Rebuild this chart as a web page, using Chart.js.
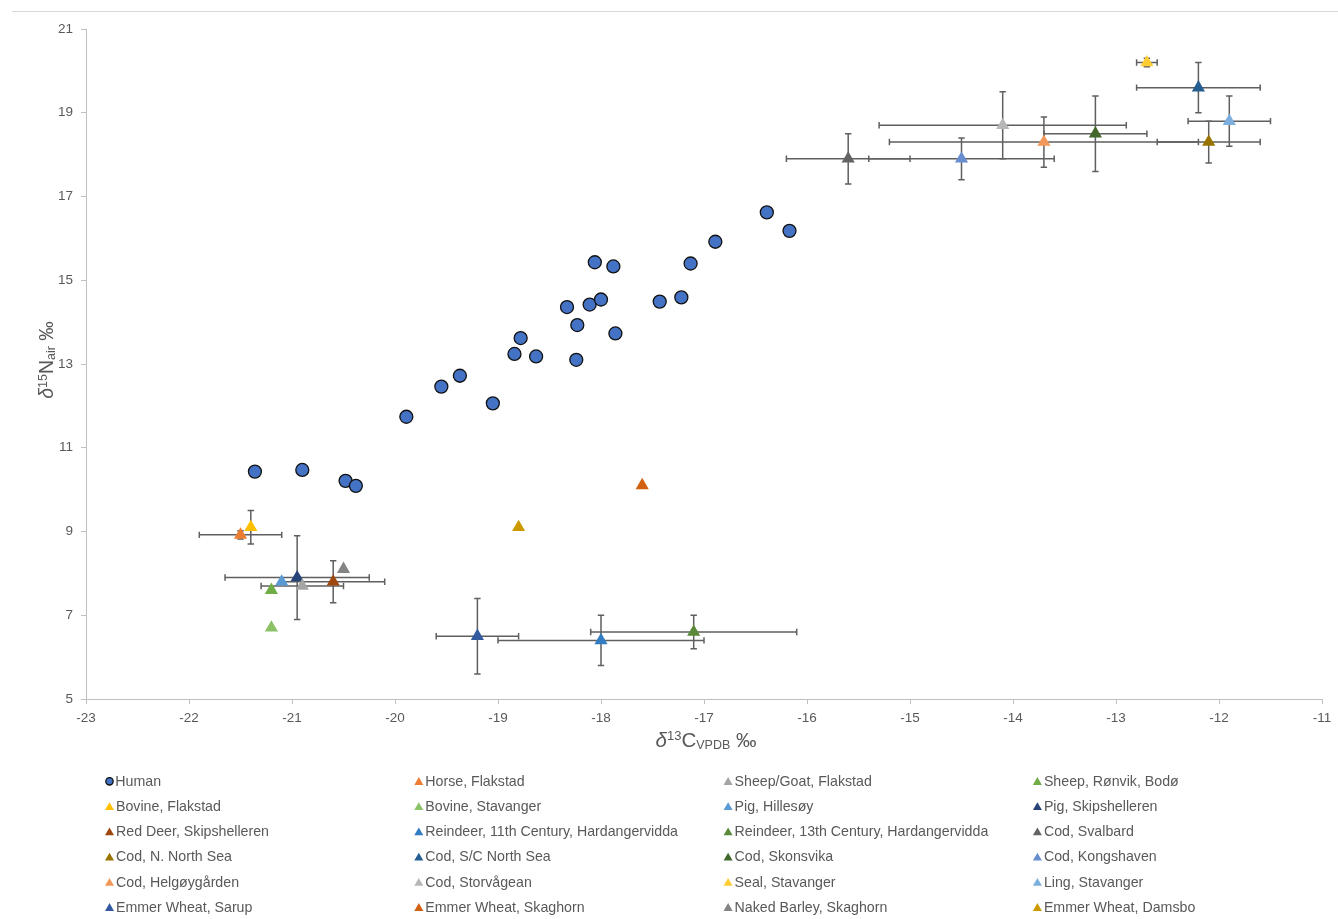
<!DOCTYPE html>
<html>
<head>
<meta charset="utf-8">
<script src="https://cdn.jsdelivr.net/npm/chart.js@4.4.1/dist/chart.umd.min.js"></script>
<style>
  html, body { margin: 0; padding: 0; background: #ffffff; }
  #wrap { position: relative; width: 1338px; height: 919px; }
  canvas { display: block; }
</style>
</head>
<body>
<div id="wrap"><canvas id="chart" width="1338" height="919"></canvas></div>
<script>
// ---------- DATA ----------
const seriesNames = [
  "Human", "Horse, Flakstad", "Sheep/Goat, Flakstad", "Sheep, Rønvik, Bodø",
  "Bovine, Flakstad", "Bovine, Stavanger", "Pig, Hillesøy", "Pig, Skipshelleren",
  "Red Deer, Skipshelleren", "Reindeer, 11th Century, Hardangervidda", "Reindeer, 13th Century, Hardangervidda", "Cod, Svalbard",
  "Cod, N. North Sea", "Cod, S/C North Sea", "Cod, Skonsvika", "Cod, Kongshaven",
  "Cod, Helgøygården", "Cod, Storvågean", "Seal, Stavanger", "Ling, Stavanger",
  "Emmer Wheat, Sarup", "Emmer Wheat, Skaghorn", "Naked Barley, Skaghorn", "Emmer Wheat, Damsbo"
];
const seriesColors = [
  "#4472C4", "#ED7D31", "#A5A5A5", "#70AD47",
  "#FFC000", "#8CC168", "#5B9BD5", "#264478",
  "#9E480E", "#327DC2", "#5A8A39", "#636363",
  "#997300", "#255E91", "#43682B", "#698ED0",
  "#F1975A", "#B7B7B7", "#FFCD33", "#7CAFDD",
  "#335AA1", "#D26012", "#848484", "#CC9A00"
];

// Human samples
const humanX = [-19.89, -19.55, -19.37, -19.05, -18.84, -18.78, -18.63, -18.33, -18.23, -18.24,
                -18.11, -18.00, -18.06, -17.88, -17.86, -17.43, -17.22, -17.13, -16.89, -16.39,
                -16.17, -21.36, -20.90, -20.48, -20.38];
const humanY = [11.74, 12.46, 12.72, 12.06, 13.24, 13.62, 13.18, 14.36, 13.93, 13.10,
                14.42, 14.54, 15.43, 15.33, 13.73, 14.49, 14.59, 15.40, 15.92, 16.62,
                16.18, 10.43, 10.47, 10.21, 10.09];

// Faunal / plant means (series 2..24, one point each)
const meanX    = [-21.5, -20.9, -21.2, -21.4, -21.2, -21.1, -20.95, -20.6, -18.0, -17.1, -15.6,
                  -12.1, -12.2, -13.2, -14.5, -13.7, -14.1, -12.7, -11.9, -19.2, -17.6, -20.5, -18.8];
const meanY    = [8.92, 7.7, 7.6, 9.1, 6.7, 7.8, 7.9, 7.8, 6.4, 6.6, 17.9,
                  18.3, 19.6, 18.5, 17.9, 18.3, 18.7, 20.2, 18.8, 6.5, 10.1, 8.1, 9.1];
const errX     = [0.4, 0.4, 0, 0, 0, 0, 0.7, 0.5, 1.0, 1.0, 0.6,
                  0.5, 0.6, 0.5, 0.9, 1.5, 1.2, 0.1, 0.4, 0.4, 0, 0, 0];
const errY     = [0.1, 0, 0, 0.4, 0, 0, 1.0, 0.5, 0.6, 0.4, 0.6,
                  0.5, 0.6, 0.9, 0.5, 0.6, 0.8, 0.1, 0.6, 0.9, 0, 0, 0];

const xMin = -23, xMax = -11, xStep = 1;
const yMin = 5, yMax = 21, yStep = 2;

// ---------- STYLE ----------
const FONT = '"Liberation Sans", Arial, Helvetica, sans-serif';
const TEXT = '#595959';
const AXIS = '#bfbfbf';

// ---------- DATASETS ----------
const datasets = [];
datasets.push({
  label: seriesNames[0],
  data: humanX.map((x, i) => ({ x: x, y: humanY[i] })),
  pointStyle: 'circle',
  pointRadius: 6.5,
  pointHoverRadius: 6.5,
  backgroundColor: seriesColors[0],
  borderColor: '#111111',
  borderWidth: 1.3,
  showLine: false
});
for (let i = 0; i < meanX.length; i++) {
  datasets.push({
    label: seriesNames[i + 1],
    data: [{ x: meanX[i], y: meanY[i] }],
    errX: [errX[i]],
    errY: [errY[i]],
    pointStyle: 'triangle',
    pointRadius: 7.6,
    pointHoverRadius: 7.6,
    backgroundColor: seriesColors[i + 1],
    borderColor: seriesColors[i + 1],
    borderWidth: 0,
    showLine: false
  });
}

// ---------- PLUGINS ----------
const topRule = {
  id: 'topRule',
  beforeDraw(chart) {
    const ctx = chart.ctx;
    ctx.save();
    ctx.strokeStyle = '#d9d9d9';
    ctx.lineWidth = 1;
    ctx.beginPath();
    ctx.moveTo(12, 11.5);
    ctx.lineTo(1338, 11.5);
    ctx.stroke();
    ctx.restore();
  }
};

const errorBars = {
  id: 'errorBars',
  beforeDatasetsDraw(chart) {
    const ctx = chart.ctx, xs = chart.scales.x, ys = chart.scales.y;
    const cap = 3.2;
    ctx.save();
    ctx.strokeStyle = '#5f5f5f';
    ctx.lineWidth = 1.5;
    chart.data.datasets.forEach(ds => {
      if (!ds.errX) return;
      ds.data.forEach((p, i) => {
        const ex = ds.errX[i], ey = ds.errY[i];
        const px = xs.getPixelForValue(p.x), py = ys.getPixelForValue(p.y);
        ctx.beginPath();
        if (ex > 0) {
          const l = xs.getPixelForValue(p.x - ex), r = xs.getPixelForValue(p.x + ex);
          ctx.moveTo(l, py); ctx.lineTo(r, py);
          ctx.moveTo(l, py - cap); ctx.lineTo(l, py + cap);
          ctx.moveTo(r, py - cap); ctx.lineTo(r, py + cap);
        }
        if (ey > 0) {
          const t = ys.getPixelForValue(p.y + ey), b = ys.getPixelForValue(p.y - ey);
          ctx.moveTo(px, t); ctx.lineTo(px, b);
          ctx.moveTo(px - cap, t); ctx.lineTo(px + cap, t);
          ctx.moveTo(px - cap, b); ctx.lineTo(px + cap, b);
        }
        ctx.stroke();
      });
    });
    ctx.restore();
  }
};

function drawRich(ctx, parts) {
  let w = 0;
  parts.forEach(p => {
    ctx.font = (p.italic ? 'italic ' : '') + p.size + 'px ' + FONT;
    p.w = ctx.measureText(p.t).width;
    w += p.w;
  });
  let x = -w / 2;
  parts.forEach(p => {
    ctx.font = (p.italic ? 'italic ' : '') + p.size + 'px ' + FONT;
    ctx.fillText(p.t, x, p.dy || 0);
    x += p.w;
  });
}

const axisTitles = {
  id: 'axisTitles',
  afterDraw(chart) {
    const ctx = chart.ctx, a = chart.chartArea;
    ctx.save();
    ctx.fillStyle = TEXT;
    ctx.textBaseline = 'alphabetic';
    ctx.textAlign = 'left';
    // X title
    ctx.save();
    ctx.translate((a.left + a.right) / 2 + 2, a.bottom + 48);
    drawRich(ctx, [
      { t: 'δ', size: 20.5, italic: true },
      { t: '13', size: 13, dy: -7 },
      { t: 'C', size: 20.5 },
      { t: 'VPDB', size: 12.5, dy: 2 },
      { t: ' ‰', size: 20.5 }
    ]);
    ctx.restore();
    // Y title
    ctx.save();
    ctx.translate(53, (a.top + a.bottom) / 2 - 4);
    ctx.rotate(-Math.PI / 2);
    drawRich(ctx, [
      { t: 'δ', size: 19.5, italic: true },
      { t: '15', size: 12.5, dy: -6.5 },
      { t: 'N', size: 19.5 },
      { t: 'air', size: 12.5, dy: 2 },
      { t: ' ‰', size: 19.5 }
    ]);
    ctx.restore();
    ctx.restore();
  }
};

const gridLegend = {
  id: 'gridLegend',
  afterDraw(chart) {
    const ctx = chart.ctx;
    const x0 = 109.5, colW = 309.3, y0 = 781.3, rowH = 25.2;
    ctx.save();
    ctx.font = '14.2px ' + FONT;
    ctx.textBaseline = 'middle';
    ctx.textAlign = 'left';
    chart.data.datasets.forEach((ds, i) => {
      const col = i % 4, row = Math.floor(i / 4);
      const mx = x0 + col * colW, my = y0 + row * rowH;
      ctx.fillStyle = ds.backgroundColor;
      if (ds.pointStyle === 'circle') {
        ctx.beginPath();
        ctx.arc(mx, my, 3.7, 0, Math.PI * 2);
        ctx.fill();
        ctx.strokeStyle = '#111111';
        ctx.lineWidth = 1.3;
        ctx.stroke();
      } else {
        const r = 5.2;
        ctx.beginPath();
        ctx.moveTo(mx, my - r + 1);
        ctx.lineTo(mx + r * 0.866, my + r * 0.5 + 1);
        ctx.lineTo(mx - r * 0.866, my + r * 0.5 + 1);
        ctx.closePath();
        ctx.fill();
      }
      ctx.fillStyle = TEXT;
      ctx.fillText(ds.label, mx + (ds.pointStyle === 'circle' ? 5.8 : 6.5), my + 0.5);
    });
    ctx.restore();
  }
};

// ---------- CHART ----------
new Chart(document.getElementById('chart'), {
  type: 'scatter',
  data: { datasets: datasets },
  options: {
    responsive: false,
    animation: false,
    devicePixelRatio: 1,
    layout: { padding: { left: 0, right: 16, top: 29, bottom: 0 } },
    plugins: {
      legend: { display: false },
      tooltip: { enabled: false },
      title: { display: false }
    },
    scales: {
      x: {
        type: 'linear',
        min: xMin, max: xMax,
        ticks: { stepSize: xStep, color: TEXT, font: { family: FONT, size: 13.5 }, padding: 6 },
        grid: { display: true, drawOnChartArea: false, drawTicks: true, tickLength: 5, color: AXIS },
        border: { display: true, color: AXIS, width: 1 },
        afterFit(axis) { axis.height = 220; }
      },
      y: {
        type: 'linear',
        min: yMin, max: yMax,
        ticks: { stepSize: yStep, color: TEXT, font: { family: FONT, size: 13.5 }, padding: 8 },
        grid: { display: true, drawOnChartArea: false, drawTicks: true, tickLength: 5, color: AXIS },
        border: { display: true, color: AXIS, width: 1 },
        afterFit(axis) { axis.width = 86; }
      }
    }
  },
  plugins: [topRule, errorBars, axisTitles, gridLegend]
});
</script>
</body>
</html>
